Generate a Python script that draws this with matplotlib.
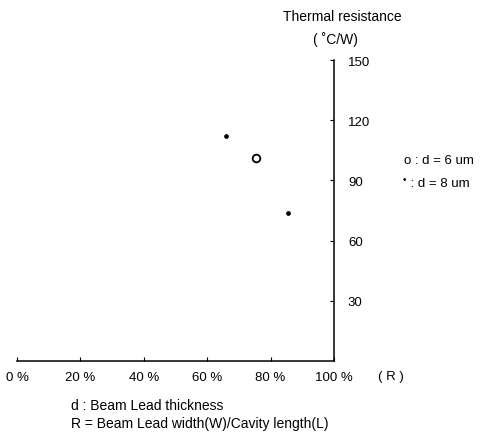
import matplotlib.pyplot as plt

plt.rcParams['font.family'] = ['Liberation Sans', 'DejaVu Sans']

# d = 6 um (open circle) and d = 8 um (dots)
r_6 = [75.5]
th_6 = [101]
r_8 = [66, 85.5]
th_8 = [112, 74]

xticks = [0, 20, 40, 60, 80, 100]
xlabels = ['0 %', '20 %', '40 %', '60 %', '80 %', '100 %']
yticks = [30, 60, 90, 120, 150]

fig = plt.figure(figsize=(4.88, 4.39), dpi=100)
ax = fig.add_axes([17/488, 77/439, 317/488, 301/439])

ax.plot(r_6, th_6, 'o', mfc='white', mec='black', ms=5.5, mew=1.3)
ax.plot(r_8, th_8, 'o', color='black', ms=2.4)

ax.set_xlim(0, 100)
ax.set_ylim(0, 150)
ax.spines['top'].set_visible(False)
ax.spines['left'].set_visible(False)
ax.spines['right'].set_linewidth(1.1)
ax.spines['bottom'].set_linewidth(1.1)
ax.yaxis.tick_right()
ax.set_xticks(xticks, xlabels)
ax.set_yticks(yticks)
ax.tick_params(axis='both', direction='in', length=3, width=0.8, labelsize=9.5)
ax.tick_params(axis='x', pad=7)
ax.tick_params(axis='y', pad=10)

fig.text(342/488, 1 - 17/439, 'Thermal resistance', ha='center', va='center', fontsize=10)
fig.text(335/488, 1 - 40/439, '( ˚C/W)', ha='center', va='center', fontsize=10)
fig.text(391/488, 1 - 377/439, '( R )', ha='center', va='center', fontsize=9.5)
fig.text(404/488, 1 - 161/439, 'o : d = 6 um', ha='left', va='center', fontsize=9.5)
fig.text(403/488, 1 - 180/439, '•', ha='left', va='center', fontsize=7)
fig.text(407/488, 1 - 184/439, ' : d = 8 um', ha='left', va='center', fontsize=9.5)
fig.text(71/488, 1 - 406/439, 'd : Beam Lead thickness', ha='left', va='center', fontsize=10)
fig.text(71/488, 1 - 424/439, 'R = Beam Lead width(W)/Cavity length(L)', ha='left', va='center', fontsize=10)

fig.savefig('out.png', dpi=100)
